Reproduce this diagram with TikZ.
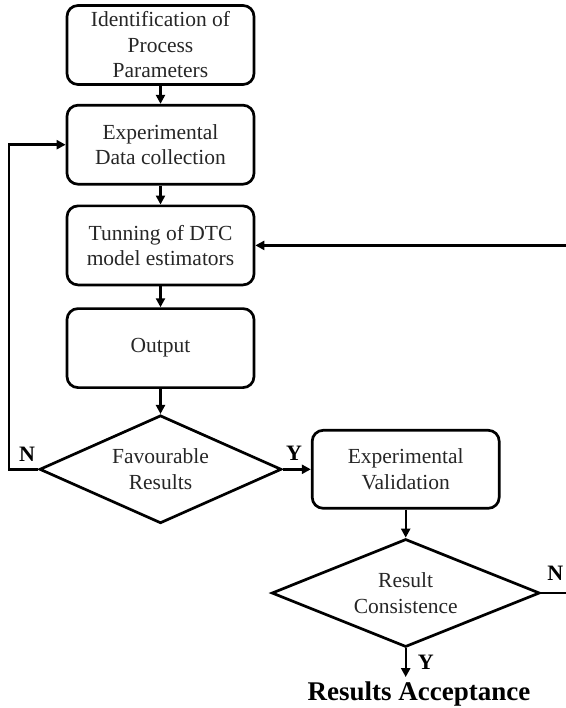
\documentclass[tikz,border=0pt]{standalone}
\usepackage{fontspec}
\setmainfont{Liberation Serif}
\usetikzlibrary{shapes.geometric, arrows.meta, positioning}

\begin{document}
\begin{tikzpicture}[
        x=1pt, y=1pt,
        node distance=18pt,
        block/.style={rectangle, draw, line width=2.7pt, text=black!85, align=center, rounded corners=11pt, minimum width=187pt, minimum height=79pt, font=\fontsize{21.5}{25.5}\selectfont},
        decision/.style={diamond, draw, line width=2.7pt, text=black!85, align=center, inner sep=0pt, minimum height=108pt, font=\fontsize{21.5}{25.5}\selectfont},
        lbl/.style={inner sep=0pt, font=\fontsize{22}{22}\selectfont\bfseries},
        arrow/.style={line width=2.4pt,->,>={Triangle[length=9pt,width=9pt]}}
    ]
        \useasboundingbox (0,0) rectangle (565,-708);

        \node[block] (ident) at (160.5,-45) {Identification of\\Process\\Parameters};
        \node[block, below=of ident] (collect) {Experimental\\Data collection};
        \node[block, below=19pt of collect] (tune) {Tunning of DTC\\model estimators};
        \node[block, below=21pt of tune] (output) {Output};
        \node[decision, aspect=2.24, minimum width=242pt, below=25pt of output] (fav) {Favourable\\Results};
        \node[block, minimum height=78pt, right=28pt of fav] (valid) {Experimental\\Validation};
        \node[decision, aspect=2.48, minimum width=268pt, below=28pt of valid] (consist) {Result\\Consistence};
        \node[inner sep=4pt, anchor=base, font=\fontsize{27}{27}\selectfont\bfseries] (accept) at (419,-700) {Results Acceptance};

        \draw[arrow] (ident) -- (collect);
        \draw[arrow] (collect) -- (tune);
        \draw[arrow] (tune) -- (output);
        \draw[arrow] (output) -- (fav);
        \draw[arrow] (fav) -- (valid);
        \draw[arrow] (valid) -- (consist);
        \draw[arrow] (consist.south) -- (consist.south |- accept.north);
        \draw[arrow] (fav.west) -- ++(-29,0) |- (collect.west);
        \draw[arrow] (consist.east) -- ++(32,0) |- (tune.east);

        \node[lbl, above left=8pt and 3pt of fav.west] (favno) {N};
        \node[lbl, above right=9pt and 3pt of fav.east] (favyes) {Y};
        \node[lbl, above right=12pt and 6pt of consist.east] (conno) {N};
        \node[lbl, below right=7pt and 12pt of consist.south] (conyes) {Y};
    \end{tikzpicture}
\end{document}
